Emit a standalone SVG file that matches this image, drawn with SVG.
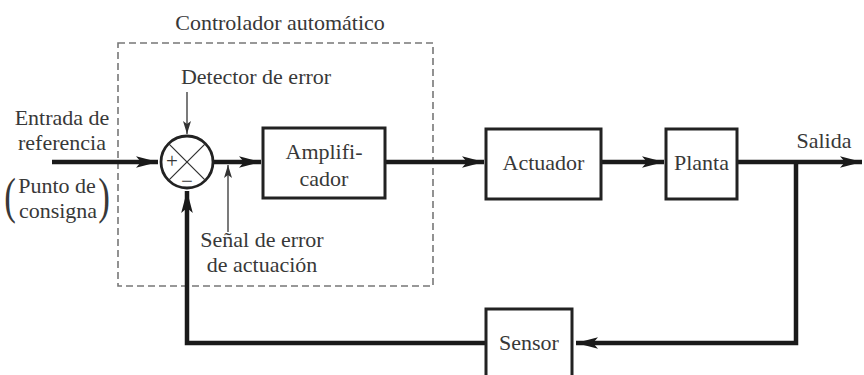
<svg xmlns="http://www.w3.org/2000/svg" width="864" height="375" viewBox="0 0 864 375" font-family="'Liberation Serif', 'DejaVu Serif', serif">
<style>
text{font-family:'Liberation Serif','DejaVu Serif',serif;font-size:22px;fill:#383838}
.c{text-anchor:middle}
.box{fill:#fff;stroke:#222;stroke-width:3}
.thick{fill:none;stroke:#1a1a1a;stroke-width:4.5}
.thin{fill:none;stroke:#333;stroke-width:1.3}
.dash{fill:none;stroke:#777;stroke-width:1.6;stroke-dasharray:7 4}
</style>
<defs>
<marker id="ah" markerUnits="userSpaceOnUse" markerWidth="24" markerHeight="14" refX="22" refY="7" orient="auto">
<path d="M0,1.2 L22,7 L0,12.8 L5,7 Z" fill="#1a1a1a"/>
</marker>
<marker id="as" markerUnits="userSpaceOnUse" markerWidth="14" markerHeight="10" refX="13" refY="5" orient="auto">
<path d="M0,1 L13,5 L0,9 L3,5 Z" fill="#333"/>
</marker>
</defs>
<rect id="controller" class="dash" x="118" y="43" width="315" height="243"/>
<text x="280" y="30" class="c">Controlador automático</text>
<g id="connectors">
<path class="thick" d="M52,162 H158" marker-end="url(#ah)"/>
<path class="thick" d="M214,162 H261" marker-end="url(#ah)"/>
<path class="thick" d="M385,162 H484" marker-end="url(#ah)"/>
<path class="thick" d="M601,162 H664" marker-end="url(#ah)"/>
<path class="thick" d="M737,162 H862" marker-end="url(#ah)"/>
<path class="thick" d="M796,162 V343 H576" marker-end="url(#ah)"/>
<path class="thick" d="M486,343 H187 V191" marker-end="url(#ah)"/>
<path class="thin" d="M187,92 V134" marker-end="url(#as)"/>
<path class="thin" d="M228,232 V165" marker-end="url(#as)"/>
</g>
<g id="sum">
<circle cx="187" cy="162" r="26" fill="#fff" stroke="#222" stroke-width="2.8"/>
<path d="M168.6,143.6 L205.4,180.4 M205.4,143.6 L168.6,180.4" stroke="#333" stroke-width="1.3"/>
<text x="172" y="168" class="c" style="font-size:21px">+</text>
<text x="187" y="188" class="c" style="font-size:21px">−</text>
</g>
<g id="amplificador">
<rect class="box" x="263" y="128" width="122" height="70"/>
<text x="324" y="159" class="c">Amplifi-</text>
<text x="324" y="186" class="c">cador</text>
</g>
<g id="actuador">
<rect class="box" x="486" y="129" width="115" height="70"/>
<text x="543.5" y="170" class="c">Actuador</text>
</g>
<g id="planta">
<rect class="box" x="666" y="129" width="71" height="70"/>
<text x="701.5" y="170" class="c">Planta</text>
</g>
<g id="sensor">
<rect class="box" x="486" y="309" width="86" height="80"/>
<text x="529" y="350" class="c">Sensor</text>
</g>
<g id="labels">
<text x="256" y="84" class="c">Detector de error</text>
<text x="62" y="125" class="c">Entrada de</text>
<text x="62" y="150" class="c">referencia</text>
<text x="57" y="193" class="c">Punto de</text>
<text x="58" y="218" class="c">consigna</text>
<text x="10" y="213" class="c" style="font-size:50px" transform="translate(10,213) scale(0.7,1) translate(-10,-213)">(</text>
<text x="104" y="213" class="c" style="font-size:50px" transform="translate(104,213) scale(0.7,1) translate(-104,-213)">)</text>
<text x="262" y="247" class="c">Señal de error</text>
<text x="262" y="272" class="c">de actuación</text>
<text x="824" y="148" class="c">Salida</text>
</g>
</svg>
